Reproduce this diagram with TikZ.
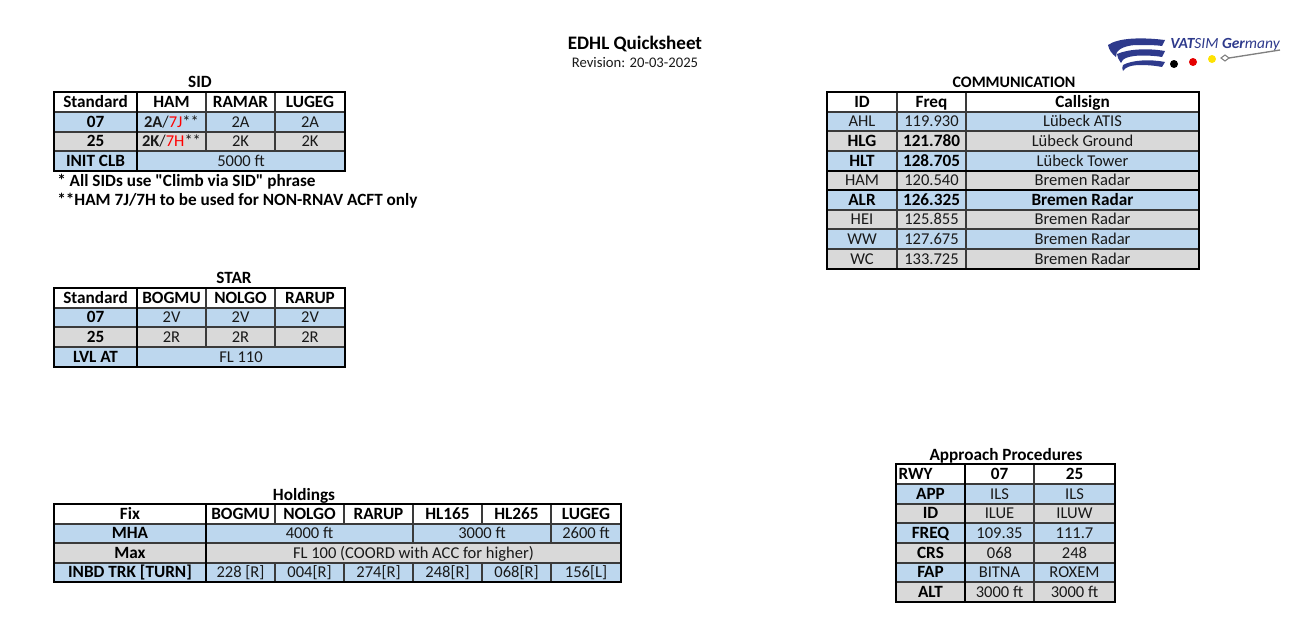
\documentclass[tikz,border=0pt]{standalone}
\usepackage{fontspec}
\defaultfontfeatures[\rmfamily]{}
\setmainfont{Carlito}
\usepackage[dvipsnames]{xcolor}
\definecolor{rowblue}{HTML}{BDD7EE}
\definecolor{rowgrey}{HTML}{D9D9D9}
\definecolor{gridline}{HTML}{3A3A3A}
\definecolor{logoblue}{HTML}{2E3A8C}
% style, name, x0, y0, x1, y1, text (reference pixels)
\newcommand{\cellbox}[7]{%
  \node[cell, #1, minimum width={(#5-#3)*0.75pt}, minimum height={(#6-#4)*0.75pt}]
    (#2) at ({(#3+#5)/2},{(#4+#6)/2}) {#7};}
\newcommand{\hot}[1]{\textcolor{red}{#1}}
\newcommand{\plainsize}{\fontsize{12.4pt}{14pt}\selectfont}
\newcommand{\boldsize}{\fontsize{12.9pt}{14pt}\selectfont\bfseries}

\begin{document}
\begin{tikzpicture}[x=0.75pt,y=-0.75pt]
  \tikzstyle{cell}=[draw=gridline, line width=0.9pt, inner sep=0pt, outer sep=0pt, text height=9.6pt, text depth=2pt, font=\plainsize, text=black!90]
  \tikzstyle{head}=[fill=white, text=black, font=\boldsize]
  \tikzstyle{blue}=[fill=rowblue]
  \tikzstyle{grey}=[fill=rowgrey]
  \tikzstyle{strong}=[text=black, font=\boldsize]
  \tikzstyle{frame}=[draw=black, line width=1.9pt]
  \tikzstyle{heading}=[inner sep=0pt, text=black, font=\boldsize]
  \tikzstyle{note}=[heading, anchor=west]
  \useasboundingbox (0,0) rectangle (1315,628);

  % titles
  \node[heading, font=\fontsize{14.3pt}{16pt}\selectfont\bfseries] (title) at (635,44) {EDHL Quicksheet};
  \node[heading, font=\fontsize{11pt}{13pt}\selectfont, text=black!90] (revision) at (635,63) {Revision: 20-03-2025};

  % SID
  \node[heading] (sid) at (200,82) {SID};
  \cellbox{head}{SID_1}{54}{92}{137}{112}{Standard}
  \cellbox{head}{SID_2}{137}{92}{206}{112}{HAM}
  \cellbox{head}{SID_3}{206}{92}{275}{112}{RAMAR}
  \cellbox{head}{SID_4}{275}{92}{345}{112}{LUGEG}
  \cellbox{blue,strong}{SID_5}{54}{112}{137}{132}{07}
  \cellbox{blue}{SID_6}{137}{112}{206}{132}{\textbf{2A}/\hot{7J}**}
  \cellbox{blue}{SID_7}{206}{112}{275}{132}{2A}
  \cellbox{blue}{SID_8}{275}{112}{345}{132}{2A}
  \cellbox{grey,strong}{SID_9}{54}{132}{137}{151}{25}
  \cellbox{grey}{SID_10}{137}{132}{206}{151}{\textbf{2K}/\hot{7H}**}
  \cellbox{grey}{SID_11}{206}{132}{275}{151}{2K}
  \cellbox{grey}{SID_12}{275}{132}{345}{151}{2K}
  \cellbox{blue,strong}{SID_13}{54}{151}{137}{171}{INIT CLB}
  \cellbox{blue}{SID_14}{137}{151}{345}{171}{5000 ft}
  \draw[frame] (SID_1.north west) rectangle (SID_14.south east);
  \draw[frame] (SID_1.north east) -- (SID_13.south east);
  \node[note] (note_1) at (57,181.5) {* All SIDs use "Climb via SID" phrase};
  \node[note] (note_2) at (57,201) {**HAM 7J/7H to be used for NON-RNAV ACFT only};

  % STAR
  \node[heading] (star) at (234,278) {STAR};
  \cellbox{head}{STAR_1}{54}{288}{137}{308}{Standard}
  \cellbox{head}{STAR_2}{137}{288}{206}{308}{BOGMU}
  \cellbox{head}{STAR_3}{206}{288}{275}{308}{NOLGO}
  \cellbox{head}{STAR_4}{275}{288}{345}{308}{RARUP}
  \cellbox{blue,strong}{STAR_5}{54}{308}{137}{327}{07}
  \cellbox{blue}{STAR_6}{137}{308}{206}{327}{2V}
  \cellbox{blue}{STAR_7}{206}{308}{275}{327}{2V}
  \cellbox{blue}{STAR_8}{275}{308}{345}{327}{2V}
  \cellbox{grey,strong}{STAR_9}{54}{327}{137}{347}{25}
  \cellbox{grey}{STAR_10}{137}{327}{206}{347}{2R}
  \cellbox{grey}{STAR_11}{206}{327}{275}{347}{2R}
  \cellbox{grey}{STAR_12}{275}{327}{345}{347}{2R}
  \cellbox{blue,strong}{STAR_13}{54}{347}{137}{367}{LVL AT}
  \cellbox{blue}{STAR_14}{137}{347}{345}{367}{FL 110}
  \draw[frame] (STAR_1.north west) rectangle (STAR_14.south east);
  \draw[frame] (STAR_1.north east) -- (STAR_13.south east);

  % COMMUNICATION
  \node[heading, font=\fontsize{12pt}{14pt}\selectfont\bfseries] (comm) at (1014,82) {COMMUNICATION};
  \cellbox{head}{COM_1}{827}{92}{897}{112}{ID}
  \cellbox{head}{COM_2}{897}{92}{966}{112}{Freq}
  \cellbox{head}{COM_3}{966}{92}{1199}{112}{Callsign}
  \cellbox{blue}{COM_4}{827}{112}{897}{131}{AHL}
  \cellbox{blue}{COM_5}{897}{112}{966}{131}{119.930}
  \cellbox{blue}{COM_6}{966}{112}{1199}{131}{Lübeck ATIS}
  \cellbox{grey,strong}{COM_7}{827}{131}{897}{151}{HLG}
  \cellbox{grey,strong}{COM_8}{897}{131}{966}{151}{121.780}
  \cellbox{grey}{COM_9}{966}{131}{1199}{151}{Lübeck Ground}
  \cellbox{blue,strong}{COM_10}{827}{151}{897}{171}{HLT}
  \cellbox{blue,strong}{COM_11}{897}{151}{966}{171}{128.705}
  \cellbox{blue}{COM_12}{966}{151}{1199}{171}{Lübeck Tower}
  \cellbox{grey}{COM_13}{827}{171}{897}{190}{HAM}
  \cellbox{grey}{COM_14}{897}{171}{966}{190}{120.540}
  \cellbox{grey}{COM_15}{966}{171}{1199}{190}{Bremen Radar}
  \cellbox{blue,strong}{COM_16}{827}{190}{897}{210}{ALR}
  \cellbox{blue,strong}{COM_17}{897}{190}{966}{210}{126.325}
  \cellbox{blue,strong}{COM_18}{966}{190}{1199}{210}{Bremen Radar}
  \cellbox{grey}{COM_19}{827}{210}{897}{229}{HEI}
  \cellbox{grey}{COM_20}{897}{210}{966}{229}{125.855}
  \cellbox{grey}{COM_21}{966}{210}{1199}{229}{Bremen Radar}
  \cellbox{blue}{COM_22}{827}{229}{897}{249}{WW}
  \cellbox{blue}{COM_23}{897}{229}{966}{249}{127.675}
  \cellbox{blue}{COM_24}{966}{229}{1199}{249}{Bremen Radar}
  \cellbox{grey}{COM_25}{827}{249}{897}{269}{WC}
  \cellbox{grey}{COM_26}{897}{249}{966}{269}{133.725}
  \cellbox{grey}{COM_27}{966}{249}{1199}{269}{Bremen Radar}
  \draw[frame] (COM_1.north west) rectangle (COM_27.south east);
  \draw[frame] (COM_13.north west) -- (COM_15.north east);
  \draw[frame] (COM_13.south west) -- (COM_15.south east);

  % Holdings
  \node[heading] (hold) at (304,495.5) {Holdings};
  \cellbox{head}{HLD_1}{54}{504}{206}{524}{Fix}
  \cellbox{head}{HLD_2}{206}{504}{275}{524}{BOGMU}
  \cellbox{head}{HLD_3}{275}{504}{344}{524}{NOLGO}
  \cellbox{head}{HLD_4}{344}{504}{413}{524}{RARUP}
  \cellbox{head}{HLD_5}{413}{504}{482}{524}{HL165}
  \cellbox{head}{HLD_6}{482}{504}{551}{524}{HL265}
  \cellbox{head}{HLD_7}{551}{504}{621}{524}{LUGEG}
  \cellbox{blue,strong}{HLD_8}{54}{524}{206}{543}{MHA}
  \cellbox{blue}{HLD_9}{206}{524}{413}{543}{4000 ft}
  \cellbox{blue}{HLD_10}{413}{524}{551}{543}{3000 ft}
  \cellbox{blue}{HLD_11}{551}{524}{621}{543}{2600 ft}
  \cellbox{grey,strong}{HLD_12}{54}{543}{206}{563}{Max}
  \cellbox{grey}{HLD_13}{206}{543}{621}{563}{FL 100 (COORD with ACC for higher)}
  \cellbox{blue,strong}{HLD_14}{54}{563}{206}{582}{INBD TRK [TURN]}
  \cellbox{blue}{HLD_15}{206}{563}{275}{582}{228 [R]}
  \cellbox{blue}{HLD_16}{275}{563}{344}{582}{004[R]}
  \cellbox{blue}{HLD_17}{344}{563}{413}{582}{274[R]}
  \cellbox{blue}{HLD_18}{413}{563}{482}{582}{248[R]}
  \cellbox{blue}{HLD_19}{482}{563}{551}{582}{068[R]}
  \cellbox{blue}{HLD_20}{551}{563}{621}{582}{156[L]}
  \draw[frame] (HLD_1.north west) rectangle (HLD_20.south east);
  \draw[frame] (HLD_1.north east) -- (HLD_14.south east);

  % Approach Procedures
  \node[heading] (appr) at (1006,455.5) {Approach Procedures};
  \cellbox{head, text width=48pt, align=left}{APP_1}{896}{464}{965}{484}{RWY}
  \cellbox{head}{APP_2}{965}{464}{1034}{484}{07}
  \cellbox{head}{APP_3}{1034}{464}{1115}{484}{25}
  \cellbox{blue,strong}{APP_4}{896}{484}{965}{504}{APP}
  \cellbox{blue}{APP_5}{965}{484}{1034}{504}{ILS}
  \cellbox{blue}{APP_6}{1034}{484}{1115}{504}{ILS}
  \cellbox{grey,strong}{APP_7}{896}{504}{965}{523}{ID}
  \cellbox{grey}{APP_8}{965}{504}{1034}{523}{ILUE}
  \cellbox{grey}{APP_9}{1034}{504}{1115}{523}{ILUW}
  \cellbox{blue,strong}{APP_10}{896}{523}{965}{543}{FREQ}
  \cellbox{blue}{APP_11}{965}{523}{1034}{543}{109.35}
  \cellbox{blue}{APP_12}{1034}{523}{1115}{543}{111.7}
  \cellbox{grey,strong}{APP_13}{896}{543}{965}{563}{CRS}
  \cellbox{grey}{APP_14}{965}{543}{1034}{563}{068}
  \cellbox{grey}{APP_15}{1034}{543}{1115}{563}{248}
  \cellbox{blue,strong}{APP_16}{896}{563}{965}{582}{FAP}
  \cellbox{blue}{APP_17}{965}{563}{1034}{582}{BITNA}
  \cellbox{blue}{APP_18}{1034}{563}{1115}{582}{ROXEM}
  \cellbox{grey,strong}{APP_19}{896}{582}{965}{602}{ALT}
  \cellbox{grey}{APP_20}{965}{582}{1034}{602}{3000 ft}
  \cellbox{grey}{APP_21}{1034}{582}{1115}{602}{3000 ft}
  \draw[frame] (APP_1.north west) rectangle (APP_21.south east);
  \draw[frame] (APP_1.north east) -- (APP_19.south east);

  % logo
  \fill[logoblue] (1165,40) .. controls (1140,37) and (1118,38) .. (1108,45) .. controls (1109,50) and (1112,54) .. (1116,57) .. controls (1115,51) and (1122,46) .. (1135,45) .. controls (1147,45) and (1156,45) .. (1162,46) -- cycle;
  \fill[logoblue] (1165,51) .. controls (1148,48) and (1128,49) .. (1117,54) .. controls (1117,57) and (1119,60) .. (1121,63) .. controls (1122,58) and (1130,56) .. (1140,55.5) .. controls (1150,55.5) and (1157,56) .. (1162,57) -- cycle;
  \fill[logoblue] (1165,62) .. controls (1150,59) and (1132,60) .. (1123,65) .. controls (1122,67) and (1122,69) .. (1123,71) .. controls (1125,67) and (1132,65) .. (1140,65) .. controls (1150,65) and (1157,66) .. (1162,67) -- cycle;
  \node[inner sep=0pt, anchor=west, text=logoblue, font=\fontsize{11.6pt}{13pt}\selectfont\itshape] (logotext) at (1170,45) {\textbf{VAT}SIM \textbf{Ger}many};
  \fill[black] (1174,64) circle (4);
  \fill[red!90!black] (1193,62) circle (4);
  \fill[yellow!85!orange] (1212,59) circle (4);
  \draw[gray, line width=0.8pt] (1221,58) -- (1225,55) -- (1229,58) -- (1225,61) -- cycle;
  \draw[gray, line width=1pt] (1229,58) -- (1280,50);
\end{tikzpicture}
\end{document}
